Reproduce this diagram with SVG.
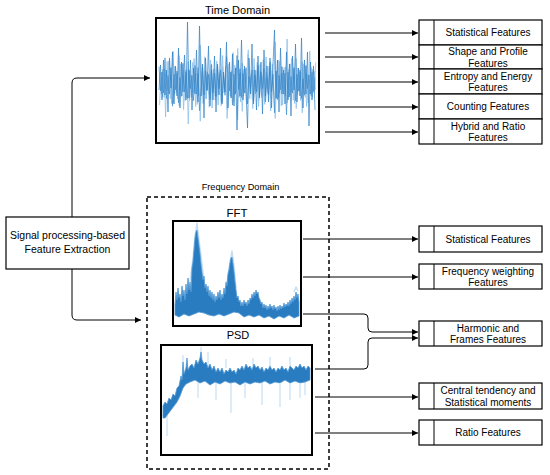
<svg xmlns="http://www.w3.org/2000/svg" width="550" height="475" viewBox="0 0 550 475">
<defs>
<style>
text{font-family:"Liberation Sans",Arial,sans-serif;fill:#000;text-anchor:middle}
.t10{font-size:10px}
.box{fill:#fff;stroke:#000;stroke-width:1.2}
.plot{fill:#fff;stroke:#000;stroke-width:2}
.conn{fill:none;stroke:#000;stroke-width:1}
.sig{fill:none;stroke:#2f80c4;stroke-width:0.7;stroke-linejoin:round}
.sigl{fill:none;stroke:#8cc0ea;stroke-width:0.9;stroke-linejoin:round}
.band{fill:#2a7cc0;stroke:#4f98d6;stroke-width:0.8;stroke-linejoin:round}
.halo{fill:none;stroke:#c3def4;stroke-width:1.4;stroke-linejoin:round}
.spk{fill:none;stroke:#a8cfee;stroke-width:0.8}
</style>
<marker id="ah" markerWidth="6" markerHeight="6" refX="6" refY="3" orient="auto" markerUnits="userSpaceOnUse">
<path d="M0,0 L6,3 L0,6 z" fill="#000"/>
</marker>
<path id="td" d="M159,90 L160.5,65 L162,100 L163.5,60 L165,95 L166.5,70 L168,112 L169.5,58 L171,88 L172.5,52 L174,104 L175.5,66 L177,96 L178.5,48 L180,108 L181.5,62 L183,92 L184.5,55 L186,100 L187.5,22 L189,98 L190.5,60 L192,110 L193.5,68 L195,94 L196.5,50 L198,102 L199.5,26 L201,96 L202.5,64 L204,118 L205.5,58 L207,90 L208.5,46 L210,106 L211.5,70 L213,100 L214.5,56 L216,112 L217.5,64 L219,95 L220.5,48 L222,104 L223.5,72 L225,92 L226.5,42 L228,108 L229.5,62 L231,98 L232.5,54 L234,106 L235.5,68 L237,130 L238.5,60 L240,96 L241.5,40 L243,100 L244.5,66 L246,92 L247.5,128 L249,58 L250.5,94 L252,44 L253.5,104 L255,70 L256.5,110 L258,56 L259.5,98 L261,62 L262.5,114 L264,50 L265.5,96 L267,66 L268.5,102 L270,58 L271.5,108 L273,64 L274.5,30 L276,98 L277.5,60 L279,112 L280.5,48 L282,94 L283.5,70 L285,104 L286.5,52 L288,100 L289.5,64 L291,116 L292.5,56 L294,90 L295.5,44 L297,102 L298.5,68 L300,96 L301.5,38 L303,108 L304.5,60 L306,94 L307.5,52 L309,126 L310.5,62 L312,100 L313.5,66 L315,110"/>
</defs>
<rect width="550" height="475" fill="#fff"/>

<g id="source">
<rect class="box" x="6" y="217" width="123" height="52"/>
<text x="67.5" y="239" style="font-size:10.5px">Signal processing-based</text>
<text x="67.5" y="253" style="font-size:10.5px">Feature Extraction</text>
</g>

<g id="time-domain">
<text x="237.5" y="13.5" style="font-size:11px">Time Domain</text>
<rect class="plot" x="156" y="18" width="163" height="125"/>
<use href="#td" class="sigl" transform="translate(0.75,82) scale(1,-0.7) translate(0,-82)"/>
<use href="#td" class="sigl" transform="translate(474.6,84) scale(-1,0.75) translate(0,-82)"/>
<use href="#td" class="sigl" transform="translate(474,82) scale(-1,-0.55) translate(0,-82)" style="stroke:#3f8dcc"/>
<use href="#td" class="sig"/>
</g>

<g id="frequency-domain">
<text x="240.5" y="190" style="font-size:9.2px">Frequency Domain</text>
<rect x="147" y="197" width="182" height="272" fill="none" stroke="#000" stroke-width="1.5" stroke-dasharray="4,3"/>
</g>

<g id="fft">
<text x="237" y="216.5" style="font-size:11.5px">FFT</text>
<rect class="plot" x="173" y="221" width="128" height="105"/>
<path class="halo" d="M190,282 L193,258 L195,236 L197,223 L199,240 L202,264 L204,280 M227,282 L230,262 L232,251 L234,266 L236,288 M294,292 L296,287 L298,291"/>
<path class="band" d="M175,305 L176,292 L177,300 L178,288 L179,298 L180,294 L181,302 L182,286 L183,296 L184,290 L185,300 L186,284 L187,294 L188,278 L189,290 L190,282 L191,292 L192,268 L193,262 L194,250 L195,238 L196,232 L197,230 L198,238 L199,246 L200,254 L201,264 L202,272 L203,280 L204,276 L205,288 L206,284 L207,292 L208,286 L209,296 L210,290 L211,298 L212,292 L213,300 L214,294 L215,302 L216,296 L217,300 L218,292 L219,298 L220,290 L221,300 L222,294 L223,298 L224,288 L225,294 L226,282 L227,286 L228,274 L229,270 L230,263 L231,258 L232,257 L233,264 L234,272 L235,282 L236,290 L237,298 L238,296 L239,302 L240,300 L241,306 L242,302 L243,306 L244,300 L245,304 L246,302 L247,306 L248,300 L249,304 L250,298 L251,300 L252,294 L253,298 L254,292 L255,296 L256,290 L257,294 L258,292 L259,298 L260,300 L261,304 L262,302 L263,308 L264,304 L265,308 L266,305 L267,310 L268,306 L269,309 L270,304 L271,308 L272,306 L273,310 L274,305 L275,309 L276,307 L277,311 L278,306 L279,310 L280,305 L281,309 L282,306 L283,308 L284,303 L285,307 L286,304 L287,306 L288,302 L289,306 L290,300 L291,304 L292,298 L293,302 L294,296 L295,300 L296,292 L297,298 L298,294 L299,302 L299,316 L294,318 L289,315 L284,318 L279,316 L274,319 L269,316 L264,318 L259,315 L254,317 L249,315 L244,317 L239,313 L234,312 L229,314 L224,316 L219,314 L214,316 L209,315 L204,313 L199,312 L194,314 L189,316 L184,314 L179,317 L175,315 Z"/>
</g>

<g id="psd">
<text x="238" y="339" style="font-size:11px">PSD</text>
<rect class="plot" x="161" y="345" width="151" height="110"/>
<path class="spk" d="M167,410 V436 M198,380 V398 M231,380 V413 M216,383 V400 M262,382 V405 M280,384 V407 M245,383 V398 M290,383 V400 M300,384 V398 M305,380 V395 M183,370 V355 M201,360 V347 M270,366 V357 M290,366 V357 M208,366 V352 M226,368 V359 M253,366 V358"/>
<path class="band" d="M163,406 L165,402 L167,404 L169,398 L171,400 L173,394 L175,396 L177,388 L179,386 L181,376 L182,380 L183,362 L184,374 L186,368 L187,358 L188,370 L190,366 L192,364 L194,368 L196,360 L198,364 L200,358 L201,352 L202,360 L204,364 L206,362 L208,368 L210,364 L212,370 L214,366 L216,372 L218,368 L220,372 L222,368 L224,374 L226,370 L228,372 L230,368 L232,372 L234,370 L236,374 L238,368 L240,370 L242,366 L244,370 L246,364 L248,368 L250,366 L252,370 L254,364 L256,368 L258,366 L260,370 L262,367 L264,372 L266,368 L268,370 L270,366 L272,370 L274,368 L276,372 L278,368 L280,370 L282,366 L284,370 L286,368 L288,372 L290,366 L292,368 L294,370 L296,366 L298,368 L300,364 L302,368 L304,366 L306,370 L308,366 L310,368 L310,380 L305,382 L300,383 L295,381 L290,383 L285,380 L280,383 L275,382 L270,384 L265,381 L260,383 L255,382 L250,384 L245,382 L240,385 L235,382 L230,383 L225,381 L220,384 L215,382 L210,385 L205,381 L200,383 L195,380 L190,382 L186,384 L183,388 L180,396 L177,402 L174,406 L171,410 L168,414 L165,418 L163,418 Z"/>
</g>

<g id="td-statistical"><rect class="box" x="419" y="20" width="123" height="25"/><line class="conn" x1="434" y1="20" x2="434" y2="45"/><text class="t10" x="488" y="36">Statistical Features</text></g>
<g id="td-shape"><rect class="box" x="419" y="45" width="123" height="24"/><line class="conn" x1="434" y1="45" x2="434" y2="69"/><text class="t10" x="488" y="55">Shape and Profile</text><text class="t10" x="488" y="66.5">Features</text></g>
<g id="td-entropy"><rect class="box" x="419" y="69" width="123" height="25"/><line class="conn" x1="434" y1="69" x2="434" y2="94"/><text class="t10" x="488" y="79.5">Entropy and Energy</text><text class="t10" x="488" y="91">Features</text></g>
<g id="td-counting"><rect class="box" x="419" y="94" width="123" height="25"/><line class="conn" x1="434" y1="94" x2="434" y2="119"/><text class="t10" x="488" y="110">Counting Features</text></g>
<g id="td-hybrid"><rect class="box" x="419" y="119" width="123" height="25"/><line class="conn" x1="434" y1="119" x2="434" y2="144"/><text class="t10" x="488" y="129.5">Hybrid and Ratio</text><text class="t10" x="488" y="141">Features</text></g>

<g id="fd-statistical"><rect class="box" x="419" y="226" width="123" height="26"/><line class="conn" x1="434" y1="226" x2="434" y2="252"/><text class="t10" x="488" y="242.5">Statistical Features</text></g>
<g id="fd-weighting"><rect class="box" x="419" y="264" width="123" height="25"/><line class="conn" x1="434" y1="264" x2="434" y2="289"/><text class="t10" x="488" y="274.5">Frequency weighting</text><text class="t10" x="488" y="286">Features</text></g>
<g id="fd-harmonic"><rect class="box" x="419" y="321" width="123" height="25"/><line class="conn" x1="434" y1="321" x2="434" y2="346"/><text class="t10" x="488" y="331.5">Harmonic and</text><text class="t10" x="488" y="343">Frames Features</text></g>
<g id="fd-central"><rect class="box" x="419" y="383" width="123" height="26"/><line class="conn" x1="434" y1="383" x2="434" y2="409"/><text class="t10" x="488" y="394">Central tendency and</text><text class="t10" x="488" y="405.5">Statistical moments</text></g>
<g id="fd-ratio"><rect class="box" x="419" y="420" width="123" height="25"/><line class="conn" x1="434" y1="420" x2="434" y2="445"/><text class="t10" x="488" y="436">Ratio Features</text></g>

<g id="connectors">
<path class="conn" marker-end="url(#ah)" d="M72,217 V83 Q72,78 77,78 H150"/>
<path class="conn" marker-end="url(#ah)" d="M72,269 V315 Q72,320 77,320 H141"/>
<path class="conn" marker-end="url(#ah)" d="M325,33 H418"/>
<path class="conn" marker-end="url(#ah)" d="M325,57 H418"/>
<path class="conn" marker-end="url(#ah)" d="M325,82 H418"/>
<path class="conn" marker-end="url(#ah)" d="M325,107 H418"/>
<path class="conn" marker-end="url(#ah)" d="M325,132 H418"/>
<path class="conn" marker-end="url(#ah)" d="M303,239 H418"/>
<path class="conn" marker-end="url(#ah)" d="M303,277 H418"/>
<path class="conn" marker-end="url(#ah)" d="M303,314 H364 Q368,314 368,318 V328 Q368,332 372,332 H418"/>
<path class="conn" marker-end="url(#ah)" d="M315,369 H364 Q368,369 368,365 V342 Q368,338 372,338 H418"/>
<path class="conn" marker-end="url(#ah)" d="M315,397 H418"/>
<path class="conn" marker-end="url(#ah)" d="M315,433 H418"/>
</g>
</svg>
